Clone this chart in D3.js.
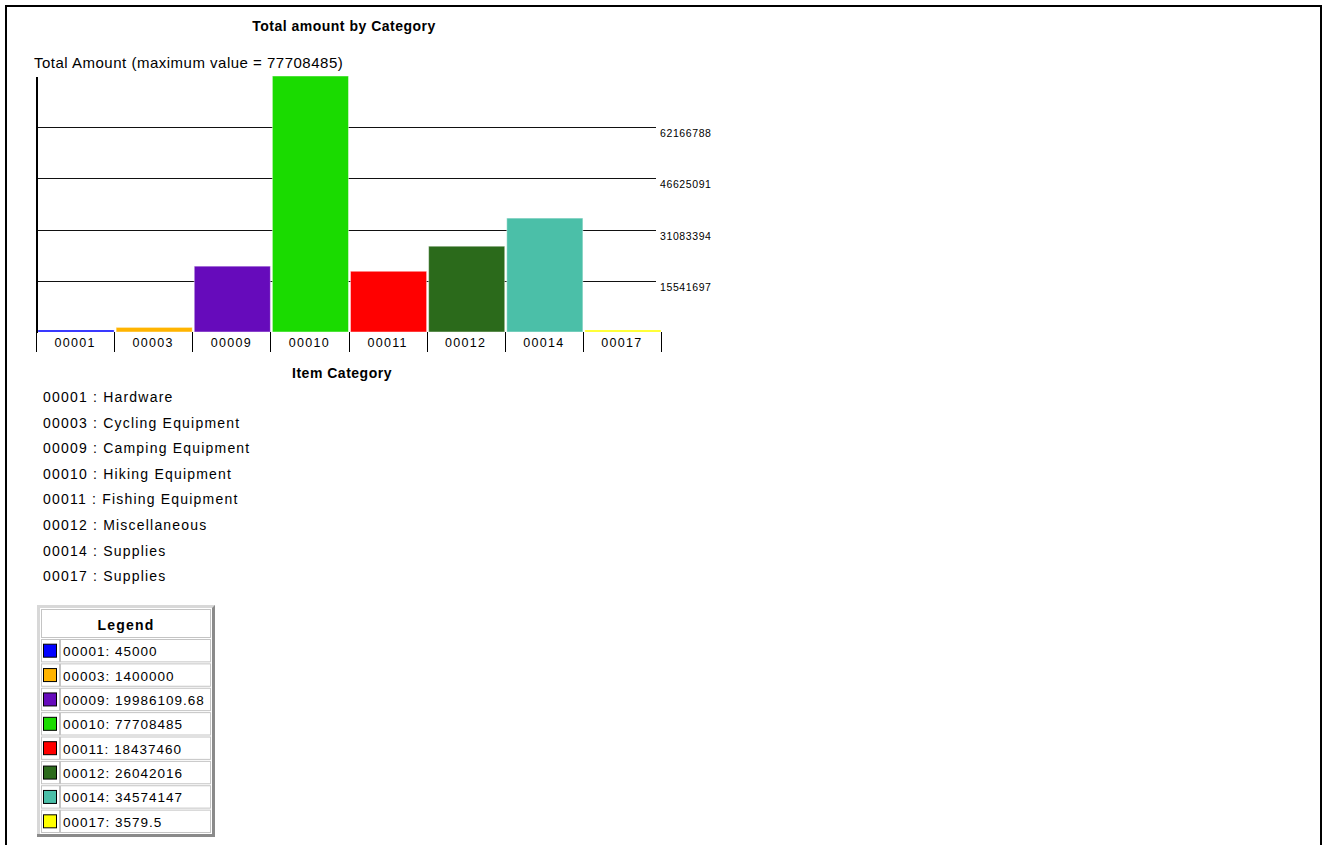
<!DOCTYPE html>
<html>
<head>
<meta charset="utf-8">
<script src="https://cdn.jsdelivr.net/npm/d3@7/dist/d3.min.js"></script>
<style>
  html, body { margin: 0; padding: 0; background: #fff; }
  svg { display: block; font-family: "Liberation Sans", Arial, sans-serif; }
</style>
</head>
<body>
<svg id="chart" width="1325" height="845"></svg>
<script>
// Category codes, their names and the total amounts per category
const categories = ["00001", "00003", "00009", "00010", "00011", "00012", "00014", "00017"];
const categoryNames = ["Hardware", "Cycling Equipment", "Camping Equipment", "Hiking Equipment",
  "Fishing Equipment", "Miscellaneous", "Supplies", "Supplies"];
const amounts = [45000, 1400000, 19986109.68, 77708485, 18437460, 26042016, 34574147, 3579.5];
const barColors = ["#0000ff", "#ffb400", "#660bbb", "#1adb00", "#ff0000", "#2b6a1b", "#4bbfa8", "#ffff00"];
const gridTicks = [15541697, 31083394, 46625091, 62166788];
const maxAmount = 77708485;

const svg = d3.select("#chart");

// page frame (open at the bottom)
svg.append("path")
  .attr("d", "M6,845 V6 H1321 V845")
  .attr("fill", "none").attr("stroke", "#000").attr("stroke-width", 2);

const plotBase = 332, plotTop = 76;
const x = d3.scaleBand().domain(categories).range([36, 661]).paddingInner(0).paddingOuter(0);
const y = d3.scaleLinear().domain([0, maxAmount]).range([plotBase, plotTop]);

// title
svg.append("text").attr("x", 344).attr("y", 31).attr("text-anchor", "middle")
  .attr("font-size", 14).attr("font-weight", "bold").attr("letter-spacing", 0.5)
  .text("Total amount by Category");

// value axis caption
svg.append("text").attr("x", 34).attr("y", 68)
  .attr("font-size", 15).attr("letter-spacing", 0.5)
  .text("Total Amount (maximum value = " + maxAmount + ")");

// horizontal grid lines with their values
const grid = svg.append("g");
grid.selectAll("line").data(gridTicks).join("line")
  .attr("x1", 37).attr("x2", 656)
  .attr("y1", d => Math.round(y(d)) + 0.5).attr("y2", d => Math.round(y(d)) + 0.5)
  .attr("stroke", "#111").attr("stroke-width", 1.2);
grid.selectAll("text").data(gridTicks).join("text")
  .attr("x", 660).attr("y", d => Math.round(y(d)) + 10)
  .attr("font-size", 10.5).attr("letter-spacing", 0.6)
  .text(d => d);

// bars
svg.append("g").selectAll("rect").data(categories).join("rect")
  .attr("x", c => x(c) + 2)
  .attr("width", x.bandwidth() - 2)
  .attr("y", (c, i) => Math.min(y(amounts[i]), plotBase - 2))
  .attr("height", (c, i) => Math.max(plotBase - y(amounts[i]), 2))
  .attr("fill", (c, i) => barColors[i])
  .attr("stroke", "rgba(255,255,255,0.45)").attr("stroke-width", 1);

// value axis line
svg.append("line").attr("x1", 37).attr("x2", 37).attr("y1", plotTop + 1).attr("y2", plotBase + 1)
  .attr("stroke", "#000").attr("stroke-width", 2);

// category axis: separators and labels
const bounds = categories.map(c => x(c)).concat([x.range()[1]]);
svg.append("g").selectAll("line").data(bounds).join("line")
  .attr("x1", d => Math.round(d) + 0.5).attr("x2", d => Math.round(d) + 0.5)
  .attr("y1", plotBase).attr("y2", plotBase + 20)
  .attr("stroke", "#000").attr("stroke-width", 1);
svg.append("g").selectAll("text").data(categories).join("text")
  .attr("x", c => x(c) + x.bandwidth() / 2).attr("y", 347)
  .attr("text-anchor", "middle").attr("font-size", 12.5).attr("letter-spacing", 1.3)
  .text(c => c);

svg.append("text").attr("x", 342).attr("y", 378).attr("text-anchor", "middle")
  .attr("font-size", 14).attr("font-weight", "bold").attr("letter-spacing", 0.5)
  .text("Item Category");

// code : name list
svg.append("g").selectAll("text").data(categories).join("text")
  .attr("x", 43).attr("y", (c, i) => 402 + i * 25.6)
  .attr("font-size", 14).attr("letter-spacing", 1.2)
  .text((c, i) => c + " : " + categoryNames[i]);

// legend table
const lg = svg.append("g");
const L = 37, T = 605, R = 215, B = 837;
const headerH = 31, rowH = (B - 3 - (T + 3) - headerH) / categories.length;
// outer bevel
lg.append("rect").attr("x", L).attr("y", T).attr("width", R - L).attr("height", B - T).attr("fill", "#d8d8d8");
lg.append("path").attr("d", `M${R},${T} V${B} H${L} V${B - 3} H${R - 3} V${T + 3} Z`).attr("fill", "#8a8a8a");
lg.append("rect").attr("x", L + 3).attr("y", T + 3).attr("width", R - L - 6).attr("height", B - T - 6).attr("fill", "#fff");

const cellStroke = "#c4c4c4";
const iL = L + 3, iR = R - 3, iT = T + 3;
// header cell
lg.append("rect").attr("x", iL + 1.5).attr("y", iT + 1.5).attr("width", iR - iL - 3).attr("height", headerH - 3)
  .attr("fill", "none").attr("stroke", cellStroke);
lg.append("text").attr("x", (L + R) / 2).attr("y", iT + 22).attr("text-anchor", "middle")
  .attr("font-size", 14).attr("font-weight", "bold").attr("letter-spacing", 1.2)
  .text("Legend");

const swW = 20;
const rows = lg.selectAll("g.row").data(categories).join("g").attr("class", "row")
  .attr("transform", (c, i) => `translate(0,${iT + headerH + i * rowH})`);
rows.append("rect").attr("x", iL + 1.5).attr("y", 0.5).attr("width", swW - 2).attr("height", rowH - 2)
  .attr("fill", "none").attr("stroke", cellStroke);
rows.append("rect").attr("x", iL + swW + 0.5).attr("y", 0.5).attr("width", iR - iL - swW - 2).attr("height", rowH - 2)
  .attr("fill", "none").attr("stroke", cellStroke);
rows.append("rect").attr("x", iL + 3.5).attr("y", rowH / 2 - 7).attr("width", 13).attr("height", 13)
  .attr("fill", (c, i) => barColors[i]).attr("stroke", "#000").attr("stroke-width", 1);
rows.append("text").attr("x", iL + swW + 3).attr("y", rowH / 2 + 5)
  .attr("font-size", 13.5).attr("letter-spacing", 1.0)
  .text((c, i) => c + ": " + String(amounts[i]));
</script>
</body>
</html>
